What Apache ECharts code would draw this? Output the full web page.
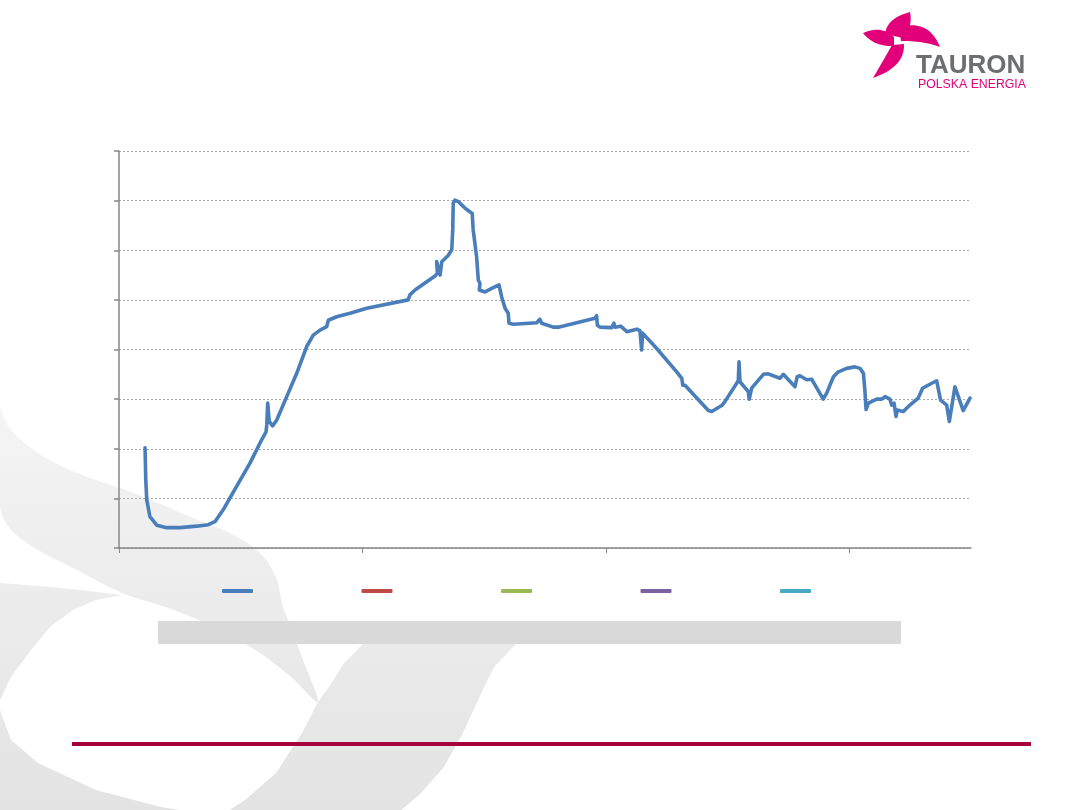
<!DOCTYPE html>
<html>
<head>
<meta charset="utf-8">
<script src="https://cdn.jsdelivr.net/npm/echarts@6/dist/echarts.min.js"></script>
<style>
html,body{margin:0;padding:0;background:#ffffff;}
#chart{width:1080px;height:810px;}
</style>
</head>
<body>
<div id="chart"></div>
<script>
// ---- data ----
const seriesNames = ['Seria 1', 'Seria 2', 'Seria 3', 'Seria 4', 'Seria 5'];
const seriesColors = ['#4A7EBB', '#BE4B48', '#98B954', '#7D60A0', '#46AAC5'];
const xTicks = [0, 100, 200, 300];
const yTicks = [0, 10, 20, 30, 40, 50, 60, 70, 80];
const xVals = [10.7,11.0,11.4,12.7,15.5,19.6,25.1,31.9,36.7,39.4,
  42.8,48.3,53.8,58.6,60.4,60.7,61.1,61.7,63.1,64.8,
  68.9,73.0,77.1,79.8,82.6,85.3,86.0,89.4,94.9,101.8,
  118.8,119.5,121.6,129.8,130.8,130.5,131.9,132.6,135.3,136.7,
  137.1,137.3,138.0,139.4,142.1,145.1,145.5,146.9,147.6,148.3,
  148.0,150.4,153.1,156.1,157.2,158.6,159.9,160.2,162.0,171.6,
  172.9,173.6,178.4,180.5,195.5,196.2,196.5,197.6,202.4,203.3,
  203.8,206.1,208.6,212.7,214.0,214.7,215.1,220.9,229.1,231.2,
  231.6,232.5,242.1,243.5,247.6,248.9,249.6,254.4,254.7,255.1,
  258.5,258.9,259.9,264.7,266.7,271.5,272.9,277.7,278.6,279.7,
  282.5,284.6,289.3,290.7,291.4,293.5,295.5,298.9,302.3,304.4,
  305.8,306.4,306.9,307.8,311.3,313.3,314.7,316.7,317.4,318.4,
  319.2,319.7,322.2,324.9,328.3,330.1,333.1,335.9,337.5,340.0,
  341.1,343.4,346.8,349.6];
const yVals = [20.2,13.7,9.7,6.3,4.6,4.1,4.1,4.4,4.7,5.3,
  7.7,12.4,17.1,21.8,23.4,24.8,29.2,25.5,24.6,25.8,
  30.5,35.2,40.6,42.9,43.9,44.6,45.9,46.6,47.3,48.3,
  50.0,51.0,52.0,54.8,55.4,57.7,55.0,57.7,59.0,60.1,
  64.1,69.5,70.1,69.8,68.5,67.4,64.1,58.7,54.0,53.3,
  52.0,51.6,52.3,53.0,50.6,48.3,47.3,45.3,45.1,45.4,
  46.1,45.3,44.5,44.5,46.3,46.8,44.9,44.5,44.4,45.3,
  44.5,44.7,43.6,44.1,43.8,39.9,43.3,40.2,35.5,34.2,
  32.8,32.8,27.7,27.5,28.7,29.5,29.5,33.7,37.5,33.5,
  31.5,30.0,32.2,35.0,35.1,34.2,35.0,32.5,34.5,34.7,
  33.9,34.0,30.0,31.2,31.6,34.5,35.5,36.2,36.5,36.2,
  35.2,31.8,27.9,29.2,30.0,30.0,30.5,30.0,28.8,29.2,
  26.5,27.8,27.5,28.8,30.2,32.2,33.0,33.7,29.8,28.8,
  25.5,32.5,27.7,30.2];
const logoTitle = 'TAURON';
const logoSubtitle = 'POLSKA ENERGIA';

// ---- helpers for decorative logo shapes ----
function quad(p0, c, p1, n) {
  const pts = [];
  for (let i = 1; i <= n; i++) {
    const t = i / n, u = 1 - t;
    pts.push([u*u*p0[0] + 2*u*t*c[0] + t*t*p1[0], u*u*p0[1] + 2*u*t*c[1] + t*t*p1[1]]);
  }
  return pts;
}
function blade(a, c1, tip, c2, b) {
  return [a].concat(quad(a, c1, tip, 14)).concat(quad(tip, c2, b, 14));
}

// ---- build ----
const chart = echarts.init(document.getElementById('chart'), null, {renderer: 'canvas'});
const mainData = xVals.map((x, i) => [x, yVals[i]]);

const bgFill = {
  type: 'linear', x: 0, y: 390, x2: 0, y2: 810, global: true,
  colorStops: [{offset: 0, color: '#F5F5F5'}, {offset: 1, color: '#E3E3E3'}]
};

const series = seriesNames.map((name, i) => ({
  name: name,
  type: 'line',
  data: i === 0 ? mainData : [],
  showSymbol: false,
  symbol: 'none',
  smooth: false,
  lineStyle: {color: seriesColors[i], width: 3.6, cap: 'round', join: 'round'},
  itemStyle: {color: seriesColors[i]},
  z: 5
}));

const pink = '#E2007A';
const petals = [
  blade([885,34], [887,18], [910,12], [913,27], [903,38]),
  blade([899,27], [929,19], [940,47], [925,41], [901,41]),
  blade([894,46], [874,47], [863,33], [882,25], [894,37]),
  blade([892,45], [883,61], [873,78], [905,67], [904,44])
];

const option = {
  backgroundColor: '#ffffff',
  animation: false,
  grid: {left: 119, right: 109, top: 151, bottom: 262, containLabel: false},
  xAxis: {
    type: 'value', min: 0, max: 350, interval: 100,
    axisLine: {show: true, lineStyle: {color: '#878787', width: 1.5}},
    axisTick: {show: true, length: 5, customValues: xTicks, lineStyle: {color: '#878787', width: 1}},
    axisLabel: {show: false},
    splitLine: {show: false}
  },
  yAxis: {
    type: 'value', min: yTicks[0], max: yTicks[yTicks.length - 1], interval: 10,
    axisLine: {show: true, lineStyle: {color: '#878787', width: 1.5}},
    axisTick: {show: true, length: 5, lineStyle: {color: '#878787', width: 1.5}},
    axisLabel: {show: false},
    splitLine: {show: true, lineStyle: {color: '#ABABAB', width: 1, type: [2, 2]}}
  },
  legend: {
    data: seriesNames,
    left: 217, top: 584,
    orient: 'horizontal',
    icon: 'roundRect',
    itemWidth: 31, itemHeight: 4,
    itemGap: 108.5,
    formatter: function () { return ''; },
    textStyle: {fontSize: 12},
    selectedMode: false
  },
  graphic: [
    {type: 'polygon', z: -20, silent: true,
     shape: {points: [[0,395],[0,407],[11,430],[38,453],[77,473],[134,493],[191,517],[230,533],[260,553],[276,577],[283,607],[291,627],[302,657],[318,702],
                      [291,677],[260,653],[214,627],[168,608],[122,593],[77,570],[38,550],[11,530],[0,507]], smooth: 0.3},
     style: {fill: bgFill}},
    {type: 'polygon', z: -20, silent: true,
     shape: {points: [[0,583],[40,586],[80,590],[122,595],[96,600],[73,610],[50,627],[31,650],[11,677],[0,700]]},
     style: {fill: bgFill}},
    {type: 'polygon', z: -20, silent: true,
     shape: {points: [[0,710],[11,740],[38,763],[96,790],[161,807],[199,813],[225,813],[245,800],[276,773],[302,733],[318,702],[329,687],[344,663],[364,643],[380,632],[517,632],[517,643],[494,667],[478,700],[463,733],[444,767],[421,793],[398,813],[0,813]]},
     style: {fill: bgFill}},
    {type: 'rect', z: -5, silent: true, shape: {x: 158, y: 621, width: 743, height: 23}, style: {fill: '#D9D9D9'}},
    {type: 'rect', z: -5, silent: true, shape: {x: 72, y: 742, width: 959, height: 4}, style: {fill: '#A8003E'}},
    {type: 'polygon', z: 10, silent: true, shape: {points: petals[0]}, style: {fill: pink}},
    {type: 'polygon', z: 10, silent: true, shape: {points: petals[1]}, style: {fill: pink}},
    {type: 'polygon', z: 10, silent: true, shape: {points: petals[2]}, style: {fill: pink}},
    {type: 'polygon', z: 10, silent: true, shape: {points: petals[3]}, style: {fill: pink}},
    {type: 'text', z: 10, silent: true, x: 916, y: 66,
     style: {text: logoTitle, fill: '#6D6E71', font: 'bold 26px "Liberation Sans", Arial, sans-serif', verticalAlign: 'middle', align: 'left'}},
    {type: 'text', z: 10, silent: true, x: 918, y: 84.5,
     style: {text: logoSubtitle, fill: pink, font: '12.3px "Liberation Sans", Arial, sans-serif', verticalAlign: 'middle', align: 'left'}}
  ],
  series: series
};
chart.setOption(option);
</script>
</body>
</html>
